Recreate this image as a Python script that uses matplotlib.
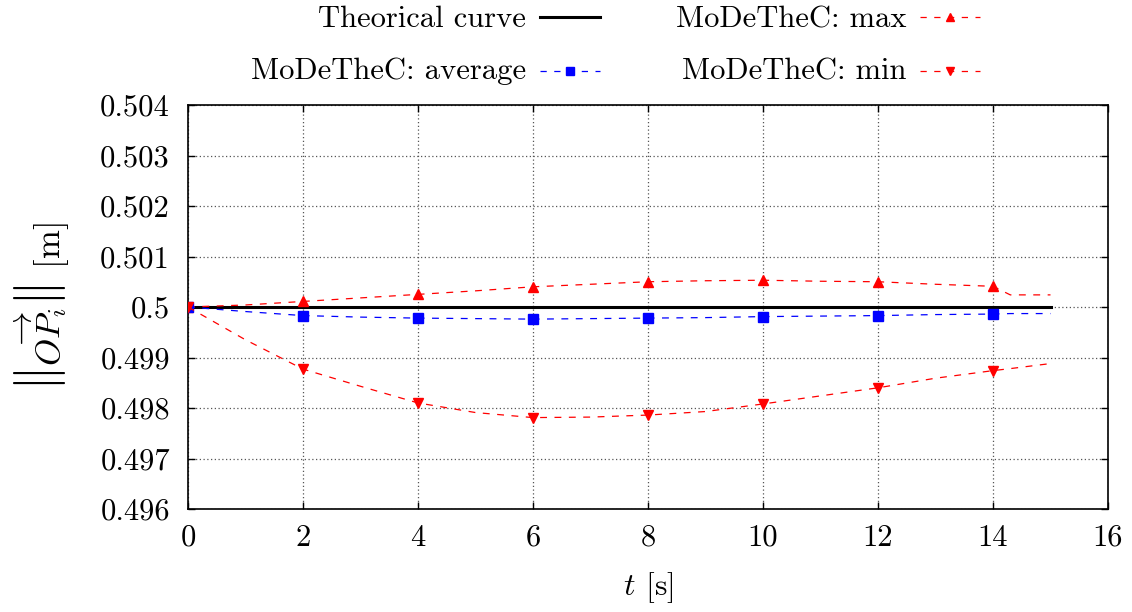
import numpy as np
import matplotlib
matplotlib.use("Agg")
import matplotlib.pyplot as plt
from matplotlib.lines import Line2D
from matplotlib.ticker import FuncFormatter

plt.rcParams["font.family"] = "cmr10"
plt.rcParams["mathtext.fontset"] = "cm"
plt.rcParams["axes.formatter.use_mathtext"] = True

# Time samples [s] and distance |OP_i| [m]
t = [0, 1, 2, 3, 4, 5, 6, 7, 8, 9, 10, 11, 12, 13, 14, 14.3, 15]
theory = [0.5] * len(t)
op_max = [0.50000, 0.50004, 0.50011, 0.50018, 0.50025, 0.50032, 0.50040, 0.50045, 0.50050,
          0.50052, 0.50053, 0.50051, 0.50050, 0.50045, 0.50041, 0.50024, 0.50024]
op_avg = [0.50000, 0.49991, 0.49983, 0.49980, 0.49978, 0.49977, 0.49976, 0.49977, 0.49978,
          0.49979, 0.49981, 0.49982, 0.49983, 0.49985, 0.49986, 0.49987, 0.49987]
op_min = [0.50000, 0.49935, 0.49877, 0.49843, 0.49810, 0.49791, 0.49781, 0.49782, 0.49786,
          0.49793, 0.49808, 0.49824, 0.49840, 0.49859, 0.49874, 0.49878, 0.49888]
marker_t = [0, 2, 4, 6, 8, 10, 12, 14]

W, H = 1132, 612
fig = plt.figure(figsize=(W / 100, H / 100), dpi=100)
ax = fig.add_axes([188 / W, 1 - 509 / H, (1108 - 188) / W, (509 - 105) / H])

t_arr = np.array(t, dtype=float)
marks = np.isin(t_arr, marker_t)

dash = dict(lw=0.9, dashes=(5.5, 6))
ax.plot(t, theory, color="black", lw=2.2, zorder=3)
ax.plot(t, op_max, color="red", marker="^", ms=6.5, markevery=marks, zorder=4, **dash)
ax.plot(t, op_avg, color="blue", marker="s", ms=6.5, markevery=marks, zorder=4, **dash)
ax.plot(t, op_min, color="red", marker="v", ms=6.5, markevery=marks, zorder=5, **dash)

ax.set_xlim(0, 16)
ax.set_ylim(0.496, 0.504)
ax.set_xticks(np.arange(0, 17, 2))
ax.set_yticks(np.arange(0.496, 0.50401, 0.001))
ax.yaxis.set_major_formatter(FuncFormatter(lambda v, p: "%g" % round(v, 4)))
ax.xaxis.set_major_formatter(FuncFormatter(lambda v, p: "%g" % v))
ax.tick_params(direction="in", length=5, width=1, labelsize=22,
               top=True, right=True, pad=11)
ax.tick_params(axis="y", pad=13)
for s in ax.spines.values():
    s.set_linewidth(1.2)
ax.grid(True, color="#555555", lw=0.9, linestyle=(0, (1, 2)))
ax.set_axisbelow(True)

ax.set_xlabel(r"$t$ [s]", fontsize=23, labelpad=13)
ax.set_ylabel(r"$\left\Vert\overrightarrow{OP_i}\right\Vert$ [m]", fontsize=25, labelpad=20)

# key: right-aligned text followed by the line sample
def key_entry(x_text, y_base, y_line, label, color, lw, dashed, marker):
    fig.text(x_text / W, 1 - y_base / H, label, ha="right", va="baseline", fontsize=22)
    xs = np.array([x_text + 14, x_text + 44, x_text + 74]) / W
    ys = np.full(3, 1 - y_line / H)
    kw = dict(color=color, lw=lw, transform=fig.transFigure)
    if dashed:
        kw.update(dashes=(5, 6))
    if marker:
        kw.update(marker=marker, ms=5.5, markevery=[1])
    fig.add_artist(Line2D(xs, ys, **kw))

key_entry(526, 27, 17, "Theorical curve", "black", 2.2, False, None)
key_entry(906, 27, 17, "MoDeTheC: max", "red", 0.9, True, "^")
key_entry(526, 79, 71, "MoDeTheC: average", "blue", 0.9, True, "s")
key_entry(906, 79, 71, "MoDeTheC: min", "red", 0.9, True, "v")

fig.savefig("out.png", dpi=100)
